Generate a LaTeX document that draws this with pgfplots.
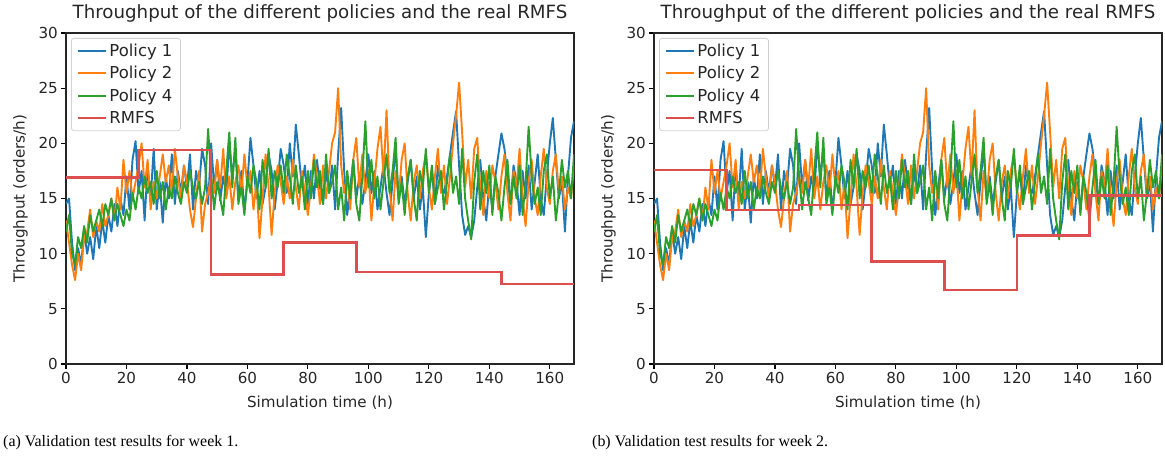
\documentclass[border=0pt]{standalone}
\usepackage{fontspec}
\setmainfont{DejaVu Sans}
\newfontfamily\capfont{Liberation Serif}
\usepackage{pgfplots}
\usepackage{pgfplotstable}
\pgfplotsset{compat=1.18}
\definecolor{tabblue}{HTML}{1F77B4}
\definecolor{taborange}{HTML}{FF7F0E}
\definecolor{tabgreen}{HTML}{2CA02C}
\definecolor{tabred}{HTML}{D62728}
\colorlet{rmfsred}{tabred!82!white}

\pgfplotstableread{
t p1 p2 p4
0 14.5 13.0 12.0
1 15.0 11.0 13.5
2 11.0 9.0 10.0
3 8.5 7.6 9.0
4 10.5 10.0 11.5
5 9.0 8.5 10.5
6 12.0 11.5 12.5
7 10.0 12.0 11.0
8 11.5 14.0 13.5
9 9.5 11.5 12.0
10 12.5 13.0 13.0
11 10.5 12.0 14.0
12 13.0 14.5 12.5
13 11.0 12.5 14.5
14 13.5 13.5 13.5
15 12.0 15.0 15.0
16 14.5 13.0 13.0
17 12.5 16.0 14.5
18 15.0 14.0 13.5
19 13.5 18.5 12.5
20 17.0 15.5 14.0
21 14.0 17.5 13.0
22 18.5 15.0 15.5
23 20.2 16.5 14.0
24 15.5 18.0 16.0
25 17.5 20.0 15.0
26 13.0 16.0 17.0
27 18.0 18.5 15.5
28 15.0 14.0 16.5
29 19.5 16.5 14.5
30 14.0 15.0 17.5
31 16.5 17.0 15.0
32 12.8 19.0 16.5
33 17.0 16.5 14.0
34 15.0 18.0 16.0
35 19.0 15.5 15.0
36 14.5 19.5 17.0
37 17.5 17.0 15.5
38 15.5 15.0 14.5
39 18.0 18.0 16.5
40 16.0 16.5 15.5
41 19.0 14.0 17.5
42 14.0 12.4 16.0
43 17.5 15.0 15.0
44 16.0 17.5 16.5
45 19.5 12.0 14.5
46 18.0 14.5 16.0
47 14.5 15.5 21.3
48 20.0 17.0 17.0
49 16.0 15.5 14.0
50 18.5 18.5 16.5
51 14.8 16.0 15.0
52 17.0 19.5 13.5
53 15.5 15.0 17.5
54 20.0 17.0 21.0
55 17.0 14.0 16.0
56 19.5 16.5 20.5
57 15.0 18.0 14.5
58 17.5 15.5 16.0
59 14.0 19.0 13.5
60 16.5 16.0 17.0
61 20.5 17.5 15.5
62 18.0 14.0 18.0
63 15.0 16.5 16.5
64 17.5 11.4 14.0
65 14.5 15.0 18.5
66 16.0 19.0 16.0
67 19.0 16.0 19.5
68 17.5 11.7 15.0
69 14.0 15.5 17.5
70 16.5 18.0 16.0
71 19.5 16.5 18.0
72 18.0 14.5 15.5
73 15.5 17.0 19.0
74 20.0 15.0 17.0
75 17.0 18.5 14.5
76 21.7 16.0 18.0
77 19.0 14.0 15.5
78 16.0 17.5 17.0
79 18.0 15.5 14.0
80 14.5 13.5 17.5
81 17.5 16.0 15.0
82 15.0 19.0 18.5
83 18.5 17.0 16.0
84 16.0 14.5 17.5
85 14.5 18.0 14.5
86 17.5 15.0 19.0
87 15.5 17.5 15.5
88 18.0 20.0 16.5
89 14.0 21.0 18.0
90 19.0 25.0 14.0
91 23.2 18.0 16.0
92 17.5 15.5 13.0
93 13.5 17.0 17.5
94 16.0 14.0 15.0
95 18.5 18.5 18.5
96 15.0 20.5 14.5
97 17.0 16.0 13.0
98 14.5 19.0 17.0
99 16.5 15.5 22.0
100 19.0 17.5 16.0
101 15.5 13.0 18.5
102 17.5 16.5 15.0
103 14.0 19.5 17.0
104 16.0 21.5 14.0
105 18.0 17.0 16.5
106 15.5 23.0 19.0
107 13.5 16.0 15.5
108 16.5 13.0 17.5
109 19.5 17.5 20.5
110 15.0 15.0 14.5
111 17.0 18.5 16.5
112 14.5 20.0 13.5
113 16.5 15.5 17.0
114 18.5 13.0 18.5
115 15.0 16.5 15.0
116 17.0 18.0 13.0
117 14.0 15.0 17.5
118 16.0 17.5 16.0
119 11.5 19.0 19.5
120 15.5 16.0 15.5
121 17.5 14.0 18.0
122 14.5 17.0 14.5
123 18.0 19.5 16.0
124 16.0 15.5 17.5
125 15.5 18.0 14.0
126 17.0 14.5 16.5
127 19.0 17.0 19.0
128 21.0 20.0 15.5
129 22.9 22.5 17.0
130 18.0 25.5 14.5
131 13.5 21.0 19.5
132 11.7 16.0 15.0
133 12.5 18.5 13.0
134 11.5 15.0 11.3
135 13.0 19.5 16.5
136 16.0 20.5 19.0
137 18.5 16.0 14.0
138 15.0 13.5 17.5
139 13.0 17.5 15.5
140 16.5 15.0 18.0
141 14.0 18.0 13.5
142 17.0 16.5 17.0
143 19.0 14.0 15.5
144 20.9 17.0 13.0
145 19.5 19.0 16.0
146 17.0 15.5 18.5
147 14.5 13.0 14.5
148 18.0 17.5 17.0
149 16.5 16.0 15.0
150 13.5 19.5 18.0
151 17.5 15.0 13.5
152 15.0 12.5 16.5
153 18.0 16.5 21.5
154 14.0 18.5 17.0
155 16.5 15.0 14.5
156 19.0 13.5 16.0
157 15.0 17.0 13.5
158 13.5 19.5 17.5
159 17.0 16.0 19.0
160 20.0 14.5 15.0
161 22.3 17.5 17.0
162 18.5 19.0 13.0
163 15.0 15.5 15.5
164 16.5 17.0 18.5
165 12.0 14.0 16.0
166 17.0 16.0 17.5
167 20.5 15.0 15.0
168 22.0 18.0 19.0
}\policydata

\pgfplotsset{
  myaxis/.style={
    scale only axis,
    width=508bp, height=331bp,
    xmin=0, xmax=168, ymin=0, ymax=30,
    xtick={0,20,...,160}, ytick={0,5,...,30},
    tick align=outside, tick pos=left,
    major tick length=4.7bp,
    every tick/.style={black, line width=1.1bp},
    axis line style={line width=1.1bp, black!85},
    /pgf/number format/assume math mode=true,
    tick label style={font=\fontsize{15.2}{17}\selectfont, text=black!85},
    label style={font=\fontsize{15.2}{17}\selectfont, text=black!85},
    title style={font=\fontsize{18.3}{20}\selectfont, text=black!85, yshift=1bp},
    title={Throughput of the different policies and the real RMFS},
    xlabel={Simulation time (h)},
    ylabel={Throughput (orders/h)},
    xlabel style={yshift=-5bp},
    ylabel style={yshift=4bp},
    legend cell align=left,
    legend style={at={(0.010,0.985)}, anchor=north west,
      draw=black!18, rounded corners=2.5bp, line width=0.8bp,
      font=\fontsize{16.5}{18}\selectfont, text=black!85,
      row sep=4.6bp, inner xsep=6bp, inner ysep=3.5bp,
      /tikz/every even column/.append style={column sep=4bp}},
    legend image code/.code={\draw[##1, opacity=1, line width=2bp] (0bp,0bp) -- (28bp,0bp);},
    clip=true,
  },
  pol/.style={line width=1.9bp, line join=round, no markers},
  rmfs/.style={const plot, rmfsred, line width=2.6bp, no markers},
}

\begin{document}
\begin{tikzpicture}
\useasboundingbox (0bp,0bp) rectangle (1165bp,457bp);

\begin{axis}[myaxis, at={(66bp,93bp)}, anchor=south west]
\addplot[pol, tabblue] table[x=t, y=p1]{\policydata};
\addlegendentry{Policy 1}
\addplot[pol, taborange] table[x=t, y=p2]{\policydata};
\addlegendentry{Policy 2}
\addplot[pol, tabgreen] table[x=t, y=p4]{\policydata};
\addlegendentry{Policy 4}
\addplot[rmfs] coordinates {
(0,16.9) (24,19.4) (48,8.1) (72,11.0) (96,8.35) (144,7.25) (168,7.25)};
\addlegendentry{RMFS}
\end{axis}

\begin{axis}[myaxis, at={(654bp,93bp)}, anchor=south west]
\addplot[pol, tabblue] table[x=t, y=p1]{\policydata};
\addlegendentry{Policy 1}
\addplot[pol, taborange] table[x=t, y=p2]{\policydata};
\addlegendentry{Policy 2}
\addplot[pol, tabgreen] table[x=t, y=p4]{\policydata};
\addlegendentry{Policy 4}
\addplot[rmfs] coordinates {
(0,17.6) (24,13.95) (48,14.4) (72,9.3) (96,6.7) (120,11.65) (144,15.25) (168,15.25)};
\addlegendentry{RMFS}
\end{axis}

\node[anchor=base west, font=\capfont\fontsize{16}{18}\selectfont, inner sep=0pt] at (3bp,11bp) {(a) Validation test results for week 1.};
\node[anchor=base west, font=\capfont\fontsize{16}{18}\selectfont, inner sep=0pt] at (592bp,11bp) {(b) Validation test results for week 2.};
\end{tikzpicture}
\end{document}
